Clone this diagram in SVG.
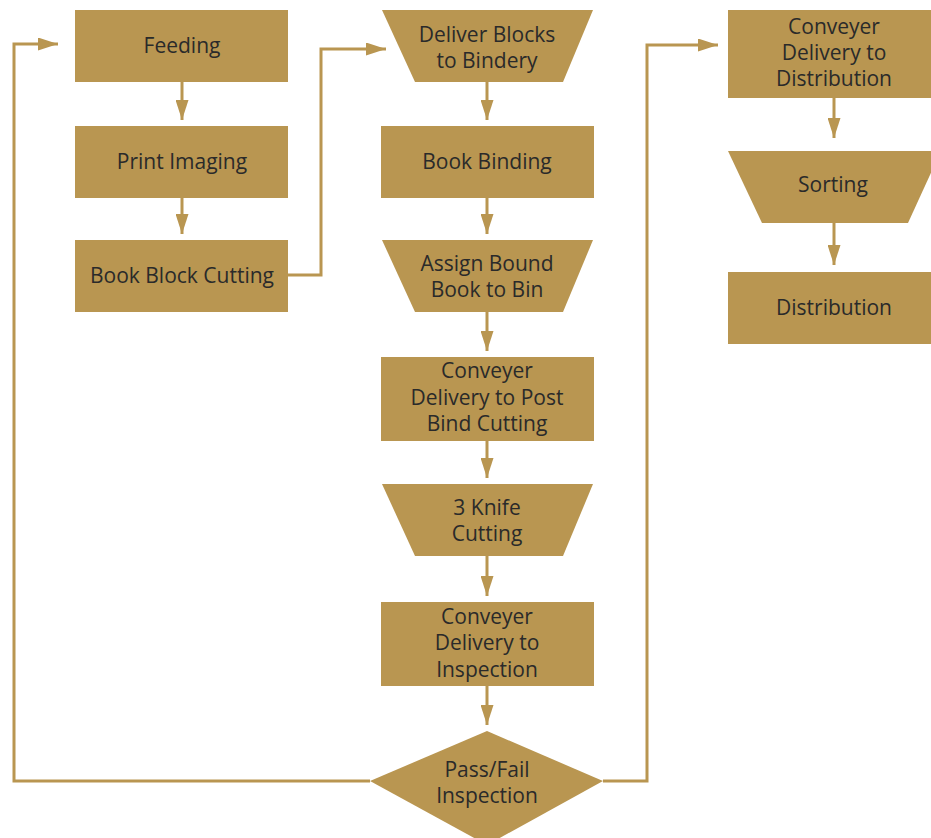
<svg xmlns="http://www.w3.org/2000/svg" width="931" height="838" viewBox="0 0 931 838">
  <defs>
    <marker id="arrow" viewBox="0 0 20 13" refX="20" refY="6.5" markerWidth="20" markerHeight="13" markerUnits="userSpaceOnUse" orient="auto">
      <path d="M0,0 L20,6.5 L0,13 Z" fill="#B99651"/>
    </marker>
  </defs>
  <style>
    .shape { fill: #B99651; }
    .label { font-family: "Open Sans", "Liberation Sans", sans-serif; font-size: 21px; fill: #2a2a2a; text-anchor: middle; }
    .conn { fill: none; stroke: #B99651; stroke-width: 3; marker-end: url(#arrow); }
  </style>
  <rect width="931" height="838" fill="#ffffff"/>

  <!-- connectors -->
  <g id="connectors">
    <path class="conn" d="M182,82 V120"/>
    <path class="conn" d="M182,198 V234"/>
    <path class="conn" d="M288,275 H321 V49 H386"/>
    <path class="conn" d="M487,82 V120"/>
    <path class="conn" d="M487,198 V234"/>
    <path class="conn" d="M487,312 V351"/>
    <path class="conn" d="M487,441 V478"/>
    <path class="conn" d="M487,556 V596"/>
    <path class="conn" d="M487,686 V725"/>
    <path class="conn" d="M370,781 H14 V44 H58"/>
    <path class="conn" d="M603,781 H647 V45 H718"/>
    <path class="conn" d="M834,98 V138"/>
    <path class="conn" d="M834,223 V265"/>
  </g>

  <!-- left column -->
  <g id="feeding">
    <rect class="shape" x="75" y="10" width="213" height="72"/>
    <text class="label" x="182" y="53">Feeding</text>
  </g>
  <g id="print-imaging">
    <rect class="shape" x="75" y="126" width="213" height="72"/>
    <text class="label" x="182" y="169">Print Imaging</text>
  </g>
  <g id="book-block-cutting">
    <rect class="shape" x="75" y="240" width="213" height="72"/>
    <text class="label" x="182" y="283">Book Block Cutting</text>
  </g>

  <!-- middle column -->
  <g id="deliver-blocks">
    <polygon class="shape" points="382,10 593,10 563,82 415,82"/>
    <text class="label" x="487" y="42">Deliver Blocks</text>
    <text class="label" x="487" y="68">to Bindery</text>
  </g>
  <g id="book-binding">
    <rect class="shape" x="381" y="126" width="213" height="72"/>
    <text class="label" x="487" y="169">Book Binding</text>
  </g>
  <g id="assign-bound-book">
    <polygon class="shape" points="382,240 593,240 563,312 415,312"/>
    <text class="label" x="487" y="271">Assign Bound</text>
    <text class="label" x="487" y="297">Book to Bin</text>
  </g>
  <g id="conveyer-post-bind">
    <rect class="shape" x="381" y="357" width="213" height="84"/>
    <text class="label" x="487" y="378">Conveyer</text>
    <text class="label" x="487" y="405">Delivery to Post</text>
    <text class="label" x="487" y="431">Bind Cutting</text>
  </g>
  <g id="knife-cutting">
    <polygon class="shape" points="382,484 593,484 563,556 415,556"/>
    <text class="label" x="487" y="515">3 Knife</text>
    <text class="label" x="487" y="541">Cutting</text>
  </g>
  <g id="conveyer-inspection">
    <rect class="shape" x="381" y="602" width="213" height="84"/>
    <text class="label" x="487" y="624">Conveyer</text>
    <text class="label" x="487" y="650">Delivery to</text>
    <text class="label" x="487" y="677">Inspection</text>
  </g>
  <g id="pass-fail">
    <polygon class="shape" points="487,731 603,781 487,845 370,781"/>
    <text class="label" x="487" y="777">Pass/Fail</text>
    <text class="label" x="487" y="803">Inspection</text>
  </g>

  <!-- right column -->
  <g id="conveyer-distribution">
    <rect class="shape" x="728" y="10" width="213" height="88"/>
    <text class="label" x="834" y="34">Conveyer</text>
    <text class="label" x="834" y="60">Delivery to</text>
    <text class="label" x="834" y="86">Distribution</text>
  </g>
  <g id="sorting">
    <polygon class="shape" points="728,151 941,151 908,223 762,223"/>
    <text class="label" x="833" y="192">Sorting</text>
  </g>
  <g id="distribution">
    <rect class="shape" x="728" y="272" width="213" height="72"/>
    <text class="label" x="834" y="315">Distribution</text>
  </g>
</svg>
